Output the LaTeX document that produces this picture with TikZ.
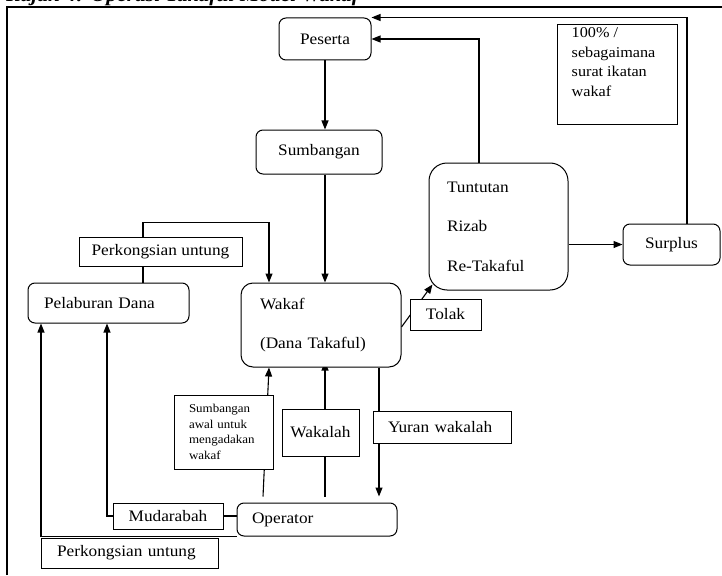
\documentclass[tikz,border=0pt]{standalone}
\usepackage{fontspec}
\setmainfont{Liberation Serif}[FakeStretch=1.08]
\usetikzlibrary{arrows.meta,backgrounds,calc}
\begin{document}
\begin{tikzpicture}[x=1pt,y=-1pt,
 every node/.style={inner sep=0pt},
 box/.style={draw, fill=white, line width=1pt, font=\fontsize{16}{19}\selectfont},
 rbox/.style={box, rounded corners=7pt},
 conn/.style={line width=1.1pt},
 arr/.style={conn, -{Triangle[length=9pt,width=7pt]}}]
\useasboundingbox (0,0) rectangle (722,575);
\node[anchor=base west, font=\bfseries\itshape\fontsize{20}{24}\selectfont] (title) at (6,2) {Rajah 4: Operasi Takaful Model Wakaf};
\draw[line width=1.2pt] (7,575) -- (7,7) -- (722,7);

\node[rbox, minimum width=92pt, minimum height=42pt] (peserta) at (325,39) {Peserta};
\node[rbox, minimum width=126pt, minimum height=44pt] (sumbangan) at (319,152) {Sumbangan};
\node[box, minimum width=120pt, minimum height=99pt] (note) at (617,74.5) {};
\node[anchor=north west, align=left, font=\fontsize{15}{19.5}\selectfont] (notetext) at ([xshift=15pt,yshift=-3pt]note.north west) {100\% /\\sebagaimana\\surat ikatan\\wakaf};
\node[rbox, rounded corners=18pt, minimum width=139pt, minimum height=127pt, inner xsep=18pt, text width=103pt, align=left, font=\fontsize{16}{39.5}\selectfont] (tuntutan) at (498.5,226.5) {Tuntutan\\Rizab\\Re-Takaful};
\node[rbox, minimum width=97pt, minimum height=41pt] (surplus) at (671.5,244.5) {Surplus};
\node[box, minimum width=163pt, minimum height=29pt] (perk1) at (160.5,251.5) {Perkongsian untung};
\node[rbox, minimum width=161pt, minimum height=40pt, inner xsep=16pt, text width=129pt, align=left] (pelaburan) at (108.5,303) {Pelaburan Dana};
\node[rbox, rounded corners=12pt, minimum width=160pt, minimum height=84pt, inner xsep=19pt, text width=122pt, align=left, font=\fontsize{16}{39}\selectfont] (wakaf) at (321,325) {Wakaf\\(Dana Takaful)};
\node[box, minimum width=71pt, minimum height=31pt] (tolak) at (445.5,314.5) {Tolak};
\node[box, minimum width=99pt, minimum height=74pt, inner xsep=15pt, text width=69pt, align=left, font=\fontsize{12}{15.5}\selectfont] (awal) at (223.5,432) {Sumbangan\\awal untuk\\mengadakan\\wakaf};
\node[box, minimum width=77pt, minimum height=47pt] (wakalah) at (320.5,432.5) {Wakalah};
\node[box, minimum width=138pt, minimum height=32pt, inner xsep=15pt, text width=108pt, align=left] (yuran) at (442,427) {Yuran wakalah};
\node[rbox, minimum width=160pt, minimum height=33pt, inner xsep=15pt, text width=130pt, align=left] (operator) at (317,519.5) {Operator};
\node[box, minimum width=110pt, minimum height=26pt] (mudarabah) at (168,516) {Mudarabah};
\node[box, minimum width=177pt, minimum height=30pt, inner xsep=16pt, text width=145pt, align=left] (perk2) at (129.5,553) {Perkongsian untung};

\begin{scope}[on background layer]
\draw[arr] (peserta.south) -- (peserta.south |- sumbangan.north);
\draw[arr] (peserta.south |- sumbangan.south) -- (peserta.south |- wakaf.north);
\draw[arr] ([xshift=15.5pt]surplus.north) |- (peserta.north east);
\draw[arr] ([xshift=-19.5pt]tuntutan.north) |- (peserta.east);
\draw[arr] (tuntutan.east |- surplus.west) -- (surplus.west);
\draw[arr] ([xshift=-17.5pt]perk1.north) -- ++(0,-14) -| ([xshift=-52pt]wakaf.north);
\draw[conn] ([xshift=-17.5pt]perk1.south) -- ([xshift=-17.5pt]perk1.south |- pelaburan.north);
\draw[arr] ([yshift=-2pt]wakaf.east) -- ([xshift=4pt,yshift=6pt]tuntutan.south west);
\draw[arr] ([xshift=-54pt,yshift=6pt]operator.north) -- ([xshift=-52pt]wakaf.south);
\draw[arr] ([xshift=8pt,yshift=6pt]operator.north) -- ([xshift=8pt,yshift=6pt]operator.north |- wakaf.south);
\draw[arr] ([xshift=58pt]wakaf.south) -- ([xshift=62pt,yshift=6pt]operator.north);
\draw[conn] (mudarabah.east) -- (mudarabah.east -| operator.west);
\draw[arr] (mudarabah.west) -| ([xshift=-1.5pt]pelaburan.south);
\draw[arr] (operator.south west) -| ([xshift=-67.5pt]pelaburan.south);
\end{scope}
\end{tikzpicture}
\end{document}
